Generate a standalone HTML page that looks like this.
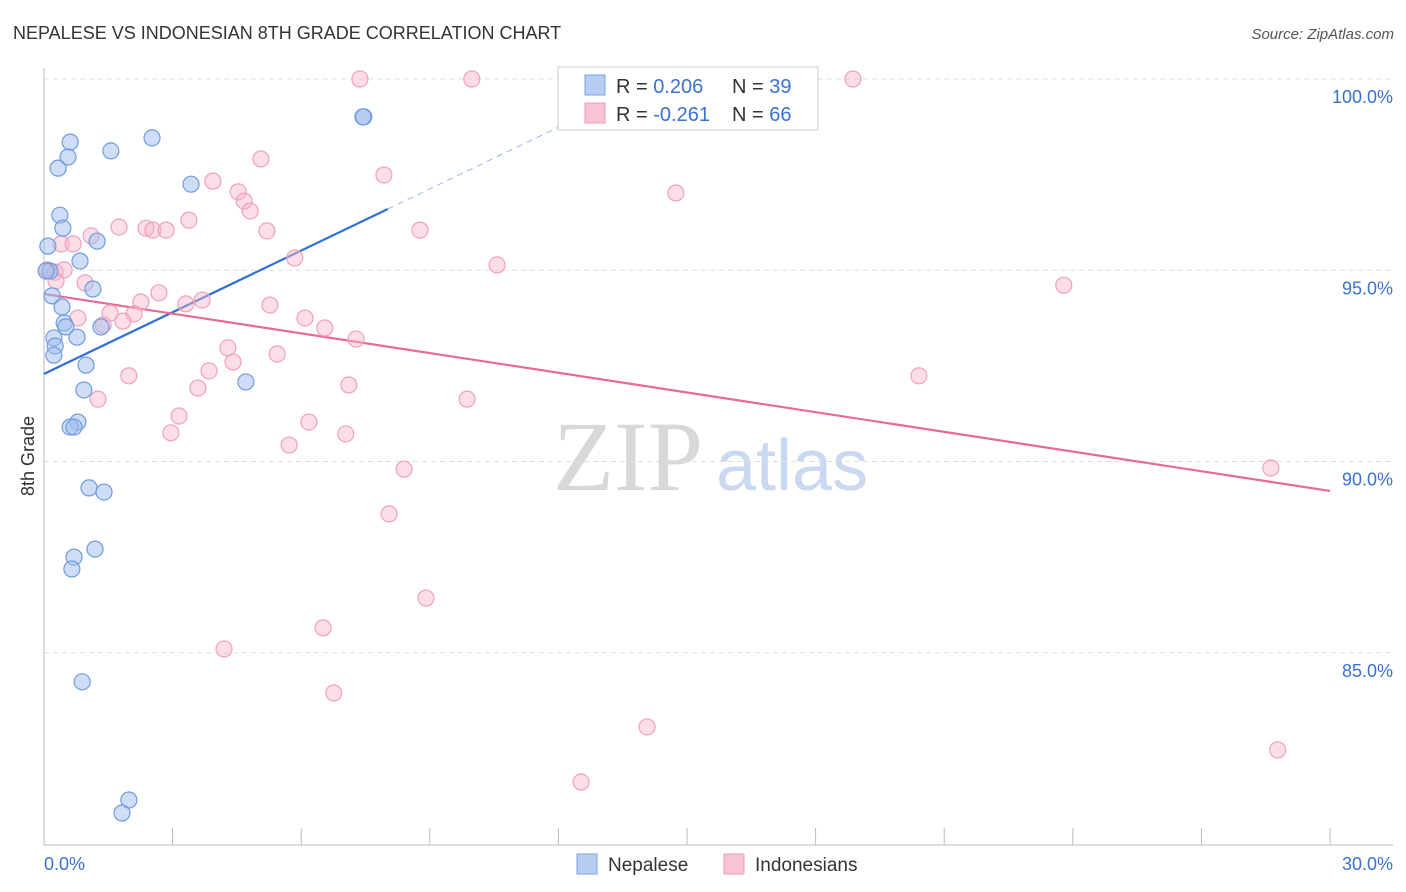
<!DOCTYPE html>
<html><head><meta charset="utf-8"><style>
body{margin:0;background:#fff;font-family:"Liberation Sans",sans-serif;}
svg{display:block}
</style></head><body>
<svg id="chart" width="1406" height="892" xmlns="http://www.w3.org/2000/svg">
<text x="13" y="39" font-size="18" fill="#333">NEPALESE VS INDONESIAN 8TH GRADE CORRELATION CHART</text>
<text x="1394" y="39" font-size="15" fill="#555" font-style="italic" text-anchor="end">Source: ZipAtlas.com</text>
<g>
<text x="553" y="490" font-size="100" font-family="Liberation Serif,serif" fill="#d8d8d8">ZIP</text>
<text x="716" y="490" font-size="72" fill="#c9d9f1">atlas</text>
</g>
<g id="grid"></g>
<g id="axes"></g>
<text transform="translate(34,456) rotate(-90)" font-size="18" fill="#333" text-anchor="middle">8th Grade</text>
<g id="lines"></g>
<g id="points"></g>
<g>
<rect x="558" y="67" width="260" height="63" fill="#fff" stroke="#ccc"/>
<rect x="585" y="75" width="20" height="20" fill="#b7cdf2" stroke="#7aa3e6"/>
<rect x="585" y="103" width="20" height="20" fill="#f8c4d4" stroke="#ee9ab5"/>
<text x="616" y="93" font-size="20" fill="#333">R = <tspan fill="#3a72d0">0.206</tspan></text>
<text x="732" y="93" font-size="20" fill="#333">N = <tspan fill="#3a72d0">39</tspan></text>
<text x="616" y="121" font-size="20" fill="#333">R = <tspan fill="#3a72d0">-0.261</tspan></text>
<text x="732" y="121" font-size="20" fill="#333">N = <tspan fill="#3a72d0">66</tspan></text>
</g>
<g>
<rect x="577" y="854" width="20" height="20" fill="#b7cdf2" stroke="#7aa3e6"/>
<text x="608" y="871" font-size="19" fill="#333">Nepalese</text>
<rect x="724" y="854" width="20" height="20" fill="#f8c4d4" stroke="#ee9ab5"/>
<text x="755" y="871" font-size="19" fill="#333">Indonesians</text>
</g>
</svg>
<script>
const yTicks=[100,95,90,85];
const yTickLabels=["100.0%","95.0%","90.0%","85.0%"];
const xTickVals=[0,3,6,9,12,15,18,21,24,27,30];
const nepX=[0.09,0.14,0.19,0.23,0.26,0.23,0.33,0.37,0.44,0.61,0.56,0.42,0.47,0.51,0.77,0.84,1.14,1.24,1.56,2.52,3.43,7.46,1.33,0.98,0.93,0.79,0.61,0.70,1.05,1.40,0.70,0.65,1.19,0.89,1.98,1.82,4.71,7.44,0.05];
const nepY=[95.63,94.98,94.33,93.23,93.02,92.78,97.67,96.44,96.10,98.35,97.96,94.04,93.62,93.52,93.25,95.24,94.51,95.76,98.12,98.46,97.25,99.01,93.52,92.52,91.87,91.03,90.90,90.90,89.31,89.20,87.50,87.19,87.71,84.24,81.15,80.81,92.08,99.01,94.98];
const indX=[7.37,9.98,18.87,5.06,7.93,3.94,4.53,4.67,4.81,14.74,3.38,1.75,2.38,2.54,2.85,5.20,8.77,1.10,0.40,0.68,5.85,10.57,0.07,0.26,0.47,0.28,0.96,2.68,2.26,3.31,3.69,5.27,1.54,2.10,0.79,1.84,6.09,1.38,6.55,7.28,4.29,5.44,4.41,23.79,3.85,1.98,20.41,7.11,3.59,1.26,9.87,3.15,6.18,2.96,7.04,5.72,8.40,28.62,8.05,8.91,6.51,4.20,6.76,14.07,28.78,12.53];
const indY=[100,100,100,97.91,97.49,97.33,97.05,96.81,96.55,97.02,96.31,96.13,96.10,96.05,96.05,96.03,96.05,95.90,95.69,95.69,95.32,95.14,95.01,94.95,95.01,94.72,94.67,94.41,94.17,94.12,94.22,94.09,93.88,93.86,93.75,93.67,93.75,93.57,93.49,93.20,92.97,92.81,92.60,94.61,92.37,92.24,92.24,92.00,91.92,91.63,91.63,91.19,91.03,90.75,90.72,90.43,89.80,89.83,88.63,86.43,85.65,85.10,83.95,83.06,82.46,81.62];
const nepTrend=[0,92.29,8.02,96.60];
const indTrend=[0,94.38,30,89.23];
const NS="http://www.w3.org/2000/svg";
const sx=v=>44+v*42.867, sy=v=>79+(100-v)*38.25;
function mk(tag,attrs,parent){const e=document.createElementNS(NS,tag);for(const k in attrs)e.setAttribute(k,attrs[k]);document.getElementById(parent).appendChild(e);return e;}
yTicks.forEach((t,i)=>{
 const g=mk('line',{x1:44,x2:1393,y1:sy(t),y2:sy(t),stroke:'#ddd','stroke-dasharray':'5,4'},'grid');
 
 
 const l=mk('text',{x:1393,y:sy(t)+24,'font-size':18,fill:'#3a72d0','text-anchor':'end'},'grid');
 l.textContent=yTickLabels[i];
 
 
});
const ax=mk('line',{x1:44,x2:44,y1:68,y2:845,stroke:'#bbb'},'axes');


const bx=mk('line',{x1:44,x2:1393,y1:845,y2:845,stroke:'#bbb'},'axes');


xTickVals.forEach(v=>{
 const t=mk('line',{x1:sx(v),x2:sx(v),y1:828,y2:845,stroke:'#bbb'},'axes');
 
 
});
const x0=mk('text',{x:44,y:870,'font-size':18,fill:'#3a72d0'},'axes');x0.textContent='0.0%';


const x1=mk('text',{x:1393,y:870,'font-size':18,fill:'#3a72d0','text-anchor':'end'},'axes');x1.textContent='30.0%';


const nl=mk('line',{x1:sx(nepTrend[0]),y1:sy(nepTrend[1]),x2:sx(nepTrend[2]),y2:sy(nepTrend[3]),stroke:'#2f6fd6','stroke-width':2.2},'lines');


const slope=(nepTrend[3]-nepTrend[1])/(nepTrend[2]-nepTrend[0]);
const xEnd=nepTrend[0]+(100-nepTrend[1])/slope;
const nd=mk('line',{x1:sx(nepTrend[2]),y1:sy(nepTrend[3]),x2:sx(xEnd),y2:sy(100),stroke:'#9bb8e8','stroke-width':1,'stroke-dasharray':'6,5'},'lines');


const il=mk('line',{x1:sx(indTrend[0]),y1:sy(indTrend[1]),x2:sx(indTrend[2]),y2:sy(indTrend[3]),stroke:'#e8699a','stroke-width':2.2},'lines');


indX.forEach((v,i)=>{
 const c=mk('circle',{cx:sx(v),cy:sy(indY[i]),r:8,fill:'rgba(246,182,202,0.45)',stroke:'#f0a0bb','stroke-width':1.2},'points');
 
 
});
nepX.forEach((v,i)=>{
 const c=mk('circle',{cx:sx(v),cy:sy(nepY[i]),r:8,fill:'rgba(160,190,238,0.5)',stroke:'#6f9be0','stroke-width':1.2},'points');
 
 
});
</script>
</body></html>
